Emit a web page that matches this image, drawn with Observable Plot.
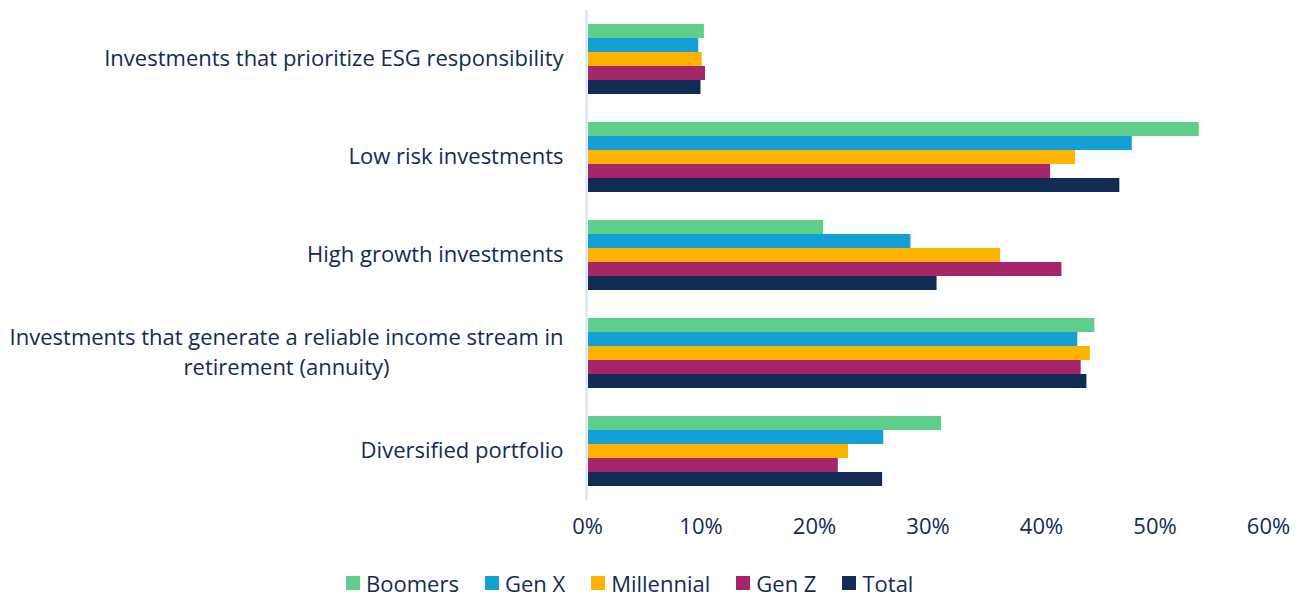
<!DOCTYPE html>
<html><head><meta charset="utf-8">
<script src="https://cdn.jsdelivr.net/npm/d3@7"></script>
<script src="https://cdn.jsdelivr.net/npm/@observablehq/plot@0.6"></script>
<style>
body{margin:0;background:#fff;font-family:"Open Sans",sans-serif;color:#122b54;width:1307px;height:598px;overflow:hidden}
#legend{display:flex;align-items:center;margin-top:22px;padding-left:346px;font-size:22px;line-height:26px;color:#122b54}
#legend .item{display:flex;align-items:center;margin-right:26px}
#legend .sw{width:14px;height:14px;margin-right:6px}
</style></head><body><div id="chart"></div><div id="legend"></div>
<script>
const categories = ["ESG","Low risk","High growth","Reliable income","Diversified"];
const categoryLabels = [
  "Investments that prioritize ESG responsibility",
  "Low risk investments",
  "High growth investments",
  "Investments that generate a reliable income stream in\nretirement (annuity)",
  "Diversified portfolio"
];
const series = ["Boomers","Gen X","Millennial","Gen Z","Total"];
const colors = ["#5fce8a","#149fd5","#fdb300","#a6266b","#122b54"];
const boomers    = [10.3, 53.9, 20.8, 44.7, 31.2];
const genX       = [ 9.8, 48.0, 28.5, 43.2, 26.1];
const millennial = [10.1, 43.0, 36.4, 44.3, 23.0];
const genZ       = [10.4, 40.8, 41.8, 43.5, 22.1];
const total      = [10.0, 46.9, 30.8, 44.0, 26.0];
const xTicks = [0, 10, 20, 30, 40, 50, 60];

const valuesBySeries = [boomers, genX, millennial, genZ, total];
const rows = [];
categories.forEach((c, i) => series.forEach((s, j) => rows.push({category: c, series: s, value: valuesBySeries[j][i]})));

const FS = 22;
const ctx = document.createElement("canvas").getContext("2d");
ctx.font = FS + "px 'Open Sans'";
const labelMarks = categories.map((c, i) => {
  const label = categoryLabels[i];
  const w = Math.max(...label.split("\n").map(l => ctx.measureText(l).width));
  return Plot.text([c], {fy: d => d, text: () => label, frameAnchor: "left", textAnchor: "middle",
    dx: -24 - w / 2, dy: -3, lineHeight: 30 / FS, fontSize: FS, fill: "#122b54"});
});

const chart = Plot.plot({
  width: 1307, height: 548,
  marginLeft: 587, marginRight: 39, marginTop: 10, marginBottom: 48,
  style: {fontFamily: "'Open Sans'", fontSize: FS + "px", color: "#122b54", background: "#fff"},
  x: {domain: [0, 60], axis: "bottom", ticks: xTicks, tickFormat: d => d + "%", tickSize: 0, tickPadding: 32, label: null},
  fy: {domain: categories, paddingInner: 28/98, paddingOuter: 14/98, axis: null, label: null},
  y: {domain: series, padding: 0, axis: null},
  color: {domain: series, range: colors},
  marks: [
    Plot.ruleX([0], {stroke: "#cfe0f8", strokeWidth: 2, dx: -1, insetTop: -14, insetBottom: -14}),
    Plot.barX(rows, {fy: "category", y: "series", x: "value", fill: "series", insetLeft: 1}),
    ...labelMarks
  ]
});
document.getElementById("chart").appendChild(chart);

const legend = document.getElementById("legend");
series.forEach((s, j) => {
  const item = document.createElement("div"); item.className = "item";
  const sw = document.createElement("div"); sw.className = "sw"; sw.style.background = colors[j];
  const t = document.createElement("span"); t.textContent = s;
  item.appendChild(sw); item.appendChild(t); legend.appendChild(item);
});
</script></body></html>
